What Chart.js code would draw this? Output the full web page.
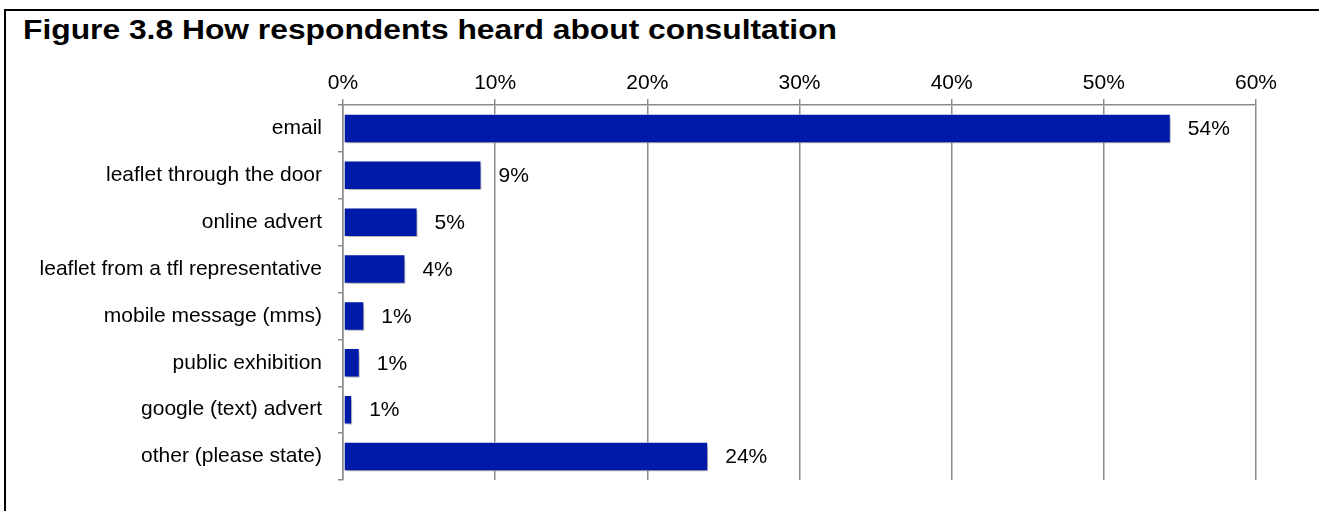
<!DOCTYPE html>
<html>
<head>
<meta charset="utf-8">
<script src="https://cdn.jsdelivr.net/npm/chart.js@4"></script>
<style>
  html, body { margin: 0; padding: 0; background: #fff; }
  body { width: 1319px; height: 511px; position: relative; overflow: hidden; font-family: "Liberation Sans", Arial, sans-serif; }
  .frame { position: absolute; left: 4px; top: 9px; width: 1400px; height: 600px; border-left: 2px solid #000; border-top: 2px solid #000; }
  .title { position: absolute; left: 23px; top: 14px; font-size: 28px; font-weight: bold; color: #000; white-space: nowrap; transform: scaleX(1.135); transform-origin: left top; }
  #chart { position: absolute; left: 0; top: 0; }
</style>
</head>
<body>
<div class="frame"></div>
<div class="title">Figure 3.8 How respondents heard about consultation</div>
<canvas id="chart" width="1319" height="511"></canvas>
<script>
const categories = [
  "email",
  "leaflet through the door",
  "online advert",
  "leaflet from a tfl representative",
  "mobile message (mms)",
  "public exhibition",
  "google (text) advert",
  "other (please state)"
];
const shares = [54.4, 9.1, 4.9, 4.1, 1.4, 1.1, 0.6, 24.0];
const shareLabels = ["54%", "9%", "5%", "4%", "1%", "1%", "1%", "24%"];
const xTicks = [0, 10, 20, 30, 40, 50, 60];

const barColor = "#001AA8";
const gridColor = "#8c8c8c";

(function () {
  const font = { family: "'Liberation Sans', Arial, sans-serif", size: 21 };

  const barShadow = {
    id: "barShadow",
    beforeDatasetsDraw(chart) {
      const ctx = chart.ctx;
      ctx.save();
      ctx.shadowColor = "rgba(0,0,0,0.35)";
      ctx.shadowBlur = 4;
      ctx.shadowOffsetX = 2;
      ctx.shadowOffsetY = 3;
    },
    afterDatasetsDraw(chart) {
      chart.ctx.restore();
    }
  };

  const valueLabels = {
    id: "valueLabels",
    afterDatasetsDraw(chart) {
      const ctx = chart.ctx;
      const meta = chart.getDatasetMeta(0);
      ctx.save();
      ctx.font = font.size + "px " + font.family;
      ctx.fillStyle = "#000";
      ctx.textAlign = "left";
      ctx.textBaseline = "middle";
      meta.data.forEach((bar, i) => {
        ctx.fillText(shareLabels[i], bar.x + 17, bar.y + 1);
      });
      ctx.restore();
    }
  };

  new Chart(document.getElementById("chart"), {
    type: "bar",
    data: {
      labels: categories,
      datasets: [{
        data: shares,
        backgroundColor: barColor,
        borderColor: "#ffffff",
        borderWidth: 1,
        borderSkipped: false,
        barPercentage: 0.63,
        categoryPercentage: 1
      }]
    },
    options: {
      indexAxis: "y",
      responsive: false,
      animation: false,
      devicePixelRatio: 1,
      layout: { padding: { left: 0, top: 60, right: 63, bottom: 31 } },
      plugins: {
        legend: { display: false },
        tooltip: { enabled: false }
      },
      scales: {
        x: {
          position: "top",
          min: 0,
          max: 60,
          afterBuildTicks(scale) { scale.ticks = xTicks.map(v => ({ value: v })); },
          afterFit(scale) { scale.height = 45; },
          ticks: {
            color: "#000",
            font,
            padding: 3,
            maxRotation: 0,
            callback: v => v + "%"
          },
          grid: { color: gridColor, lineWidth: 1.5, tickLength: 6, tickColor: gridColor },
          border: { display: true, color: gridColor, width: 1.5 }
        },
        y: {
          afterFit(scale) { scale.width = 343; },
          ticks: { color: "#000", font, padding: 16 },
          grid: { drawOnChartArea: false, offset: true, tickLength: 5, color: gridColor, lineWidth: 1.5 },
          border: { display: true, color: gridColor, width: 1.5 }
        }
      }
    },
    plugins: [barShadow, valueLabels]
  });
})();
</script>
</body>
</html>
